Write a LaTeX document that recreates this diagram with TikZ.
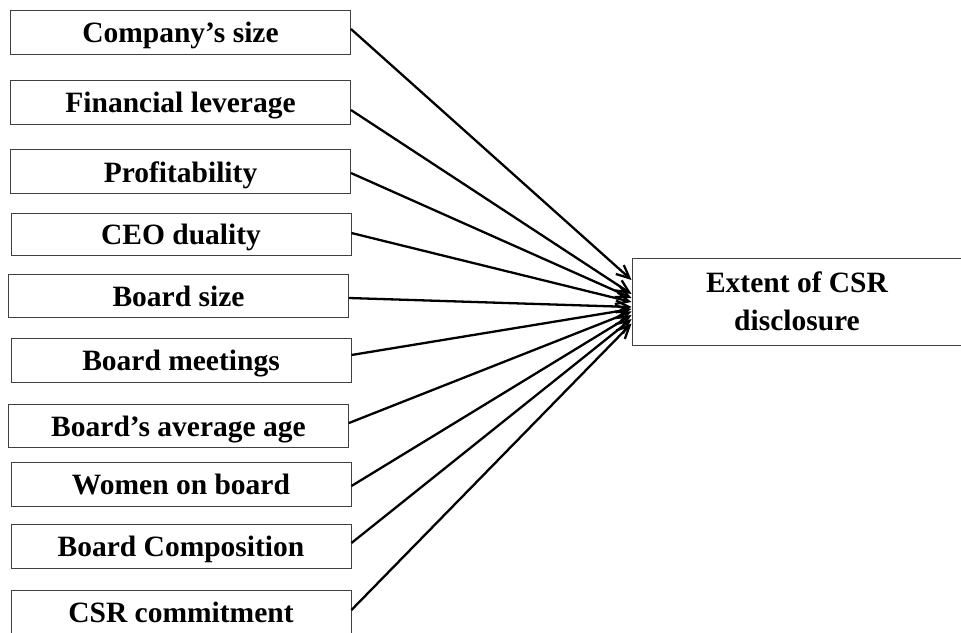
\documentclass[tikz,border=0pt]{standalone}
\usepackage{fontspec}
\setmainfont{Liberation Serif}
\usetikzlibrary{arrows.meta}

\tikzset{
  leftbox/.style={draw=black!75, line width=0.9pt, rectangle, inner sep=0pt,
    minimum width=340pt, minimum height=44pt, text height=21pt, text depth=0pt,
    font=\fontsize{29.5}{36}\selectfont\bfseries},
  outbox/.style={draw=black!75, line width=0.9pt, rectangle, inner sep=0pt,
    minimum width=330pt, minimum height=87pt, align=center,
    font=\fontsize{29.5}{38}\selectfont\bfseries},
  link/.style={line width=2.3pt, -{Straight Barb[length=13pt,width=12pt,line width=2.3pt]}}
}

\begin{document}
\begin{tikzpicture}[x=1pt,y=-1pt]
  \useasboundingbox (0,0) rectangle (961,632);

  % explanatory variables
  \node[leftbox] (b1)  at (180.5,32)    {Company’s size};
  \node[leftbox] (b2)  at (180.5,102)   {Financial leverage};
  \node[leftbox] (b3)  at (180.5,171.5) {Profitability};
  \node[leftbox, minimum height=42pt] (b4) at (181,234) {CEO duality};
  \node[leftbox, minimum height=43pt] (b5) at (178.5,295.5) {Board size};
  \node[leftbox] (b6)  at (181,360)     {Board meetings};
  \node[leftbox, minimum height=43pt] (b7) at (178.5,425.5) {Board’s average age};
  \node[leftbox] (b8)  at (181,484)     {Women on board};
  \node[leftbox] (b9)  at (181,546)     {Board Composition};
  \node[leftbox] (b10) at (181,612)     {CSR commitment};

  % dependent variable
  \node[outbox] (csr) at (797,301.5) {Extent of CSR\\disclosure};

  % links
  \draw[link] ([yshift=3pt]b1.east)    -- ([yshift=21.5pt]csr.west);
  \draw[link] ([yshift=-8pt]b2.east)   -- ([yshift=7.5pt]csr.west);
  \draw[link] ([yshift=-1.5pt]b3.east) -- ([yshift=3.5pt]csr.west);
  \draw[link] ([yshift=1pt]b4.east)    -- ([yshift=-0.5pt]csr.west);
  \draw[link] ([yshift=-2.5pt]b5.east) -- ([yshift=-5.5pt]csr.west);
  \draw[link] ([yshift=5pt]b6.east)    -- ([yshift=-7.5pt]csr.west);
  \draw[link] ([yshift=2.5pt]b7.east)  -- ([yshift=-10pt]csr.west);
  \draw[link] ([yshift=-2pt]b8.east)   -- ([yshift=-13.5pt]csr.west);
  \draw[link] ([yshift=3pt]b9.east)    -- ([yshift=-17.5pt]csr.west);
  \draw[link] ([yshift=2pt]b10.east)   -- ([yshift=-22pt]csr.west);
\end{tikzpicture}
\end{document}
